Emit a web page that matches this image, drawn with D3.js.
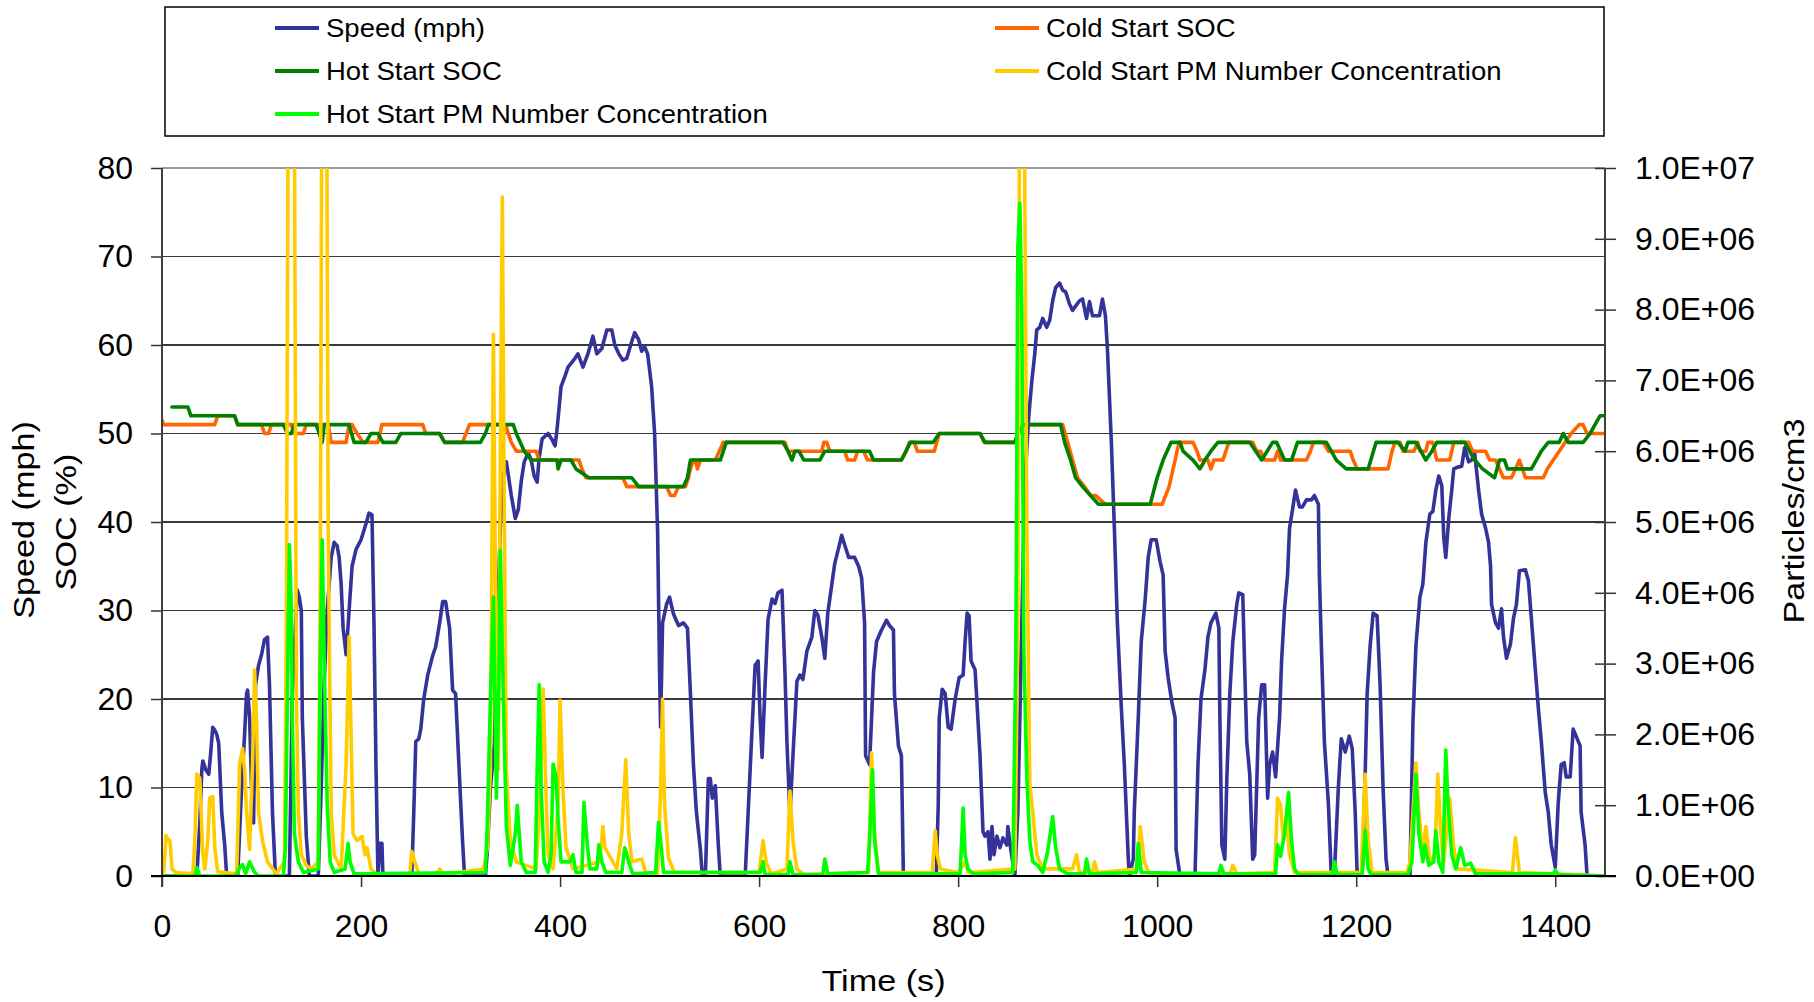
<!DOCTYPE html>
<html>
<head>
<meta charset="utf-8">
<script src="https://cdn.jsdelivr.net/npm/d3@7/dist/d3.min.js"></script>
<style>
  html, body { margin: 0; padding: 0; background: #fff; }
  svg { display: block; }
  text { font-family: "Liberation Sans", Arial, Helvetica, sans-serif; fill: #000; }
</style>
</head>
<body>
<svg id="chart" width="1814" height="1002"></svg>
<script>
// ---- Series: [time (s), value] ----
const speedMph = [
  [0,0],[35,0],[38,6],[40,12],[41,13],[44,12],[47,11.5],[49,14],[51,16.8],[53,16.5],[55,16],[57,15],[60,7.2],[63,3.5],[65,0],
  [76,0],[80,9.9],[83,16],[85,20.6],[86,21],[88,18],[90,10],[92,6],[94,21.6],[97,23.8],[100,25],[103,26.7],[106,27],[108,21.6],[111,7.2],[114,0],
  [128,0],[131,20.6],[134,28],[136,32.3],[138,31.5],[140,30],[141,17.9],[145,4.5],[148,0],
  [157,0],[160,10],[163,22],[166,30],[170,36],[173,37.7],[176,37.3],[178,36],[180,33],[182,28],[185,25],[188,30],[191,35],[195,36.9],[200,38],[205,39.8],[208,41],[211,40.8],[213,28.6],[215,12.6],[217,0],[219,3.7],[221,3.7],[222,0],
  [251,0],[253,7.2],[255,15.2],[258,15.5],[260,16.6],[263,20],[267,22.7],[272,24.9],[275,25.9],[279,28.6],[282,31],[285,31],[289,28],[292,21],[295,20.6],[299,11],[302,4],[304,0],
  [325,0],[327,3],[330,9.9],[334,15],[337,28.6],[340,39.3],[343,45.2],[346,46.8],[351,43],[355,40.4],[358,41.4],[361,44.6],[364,46.8],[368,47.8],[371,47],[374,45.2],[377,44.5],[379,47.3],[382,49.4],[385,49.7],[388,50],[392,49.3],[395,48.6],[397,50.5],[401,55.3],[405,56.5],[408,57.5],[415,58.5],[418,59],[423,57.5],[428,59],[433,61],[437,59],[442,59.6],[447,61.7],[452,61.7],[455,60],[459,59],[463,58.3],[467,58.5],[472,60.4],[475,61.4],[479,60.6],[482,59.3],[485,59.8],[488,59],[492,55.3],[495,50],[498,39],[500,23],[501,16.8],[503,28.6],[507,30.7],[510,31.5],[514,29.6],[519,28.3],[524,28.6],[528,28],[531,20.6],[534,12.6],[537,7.2],[541,3],[543,0],[546,0],[549,11],[551,11],[553,8.8],[556,10.2],[559,3.5],[561,0],
  [586,0],[589,7.2],[593,16.8],[596,23.8],[599,24.3],[601,17.9],[603,13.4],[606,21.6],[609,29],[613,31.3],[616,30.8],[619,32],[623,32.3],[626,23],[628,15],[631,7],[634,13.6],[638,22],[641,22.7],[644,22.2],[648,25.4],[653,27],[656,30],[659,29.5],[663,27],[666,24.6],[669,29.7],[673,32.9],[676,35.3],[680,37.1],[683,38.5],[686,37.4],[690,36],[696,36],[700,35],[703,33.7],[706,28.6],[707,13.6],[711,12.6],[715,23],[718,26.5],[723,27.8],[728,28.9],[731,28.3],[735,27.8],[736,20.6],[740,14.7],[743,13.6],[745,0],
  [778,0],[780,8],[781,17.9],[784,21.1],[787,20.6],[790,16.8],[793,16.6],[797,20],[801,22.4],[805,22.7],[807,26.5],[809,29.7],[811,29.4],[813,24.3],[817,23.3],[819,19.5],[822,13.6],[825,5],[827,4.5],[830,5],[832,1.9],[834,5.6],[836,2.4],[839,4.5],[842,3.2],[845,4.3],[849,3.5],[850,5.6],[853,2.9],[857,0],[860,7.2],[864,28.6],[867,44.6],[871,52],[874,55.9],[877,59],[879,61.7],[882,62],[885,63],[889,62],[892,62.8],[895,65],[898,66.5],[902,67],[905,66.2],[908,66],[912,64.6],[915,63.9],[918,64.4],[922,65],[925,65.2],[929,63],[932,64.9],[935,63.3],[939,63.3],[942,63.3],[945,65.2],[948,63.3],[950,59.6],[954,48.9],[957,39.3],[960,28.6],[964,19],[967,12.6],[971,1.9],[972,0],[976,1.9],[977,7.2],[981,17.9],[984,26.5],[988,31.3],[991,36],[994,38],[999,38],[1003,35.5],[1006,34],[1008,25.4],[1011,22.4],[1015,19.5],[1018,17.9],[1019,3],[1023,0],
  [1038,0],[1041,12.6],[1044,20],[1048,23.3],[1051,27],[1054,28.6],[1059,29.7],[1062,28],[1063,17.9],[1065,3.5],[1068,1.9],[1070,11],[1073,20.6],[1076,26.5],[1080,30.7],[1082,32],[1086,31.8],[1088,23.3],[1090,15.2],[1093,11.5],[1096,1.9],[1098,2.4],[1102,17.9],[1105,21.6],[1108,21.6],[1111,8.8],[1113,12.6],[1116,14],[1119,11.2],[1123,17.9],[1125,24.3],[1128,30.2],[1131,34],[1133,39.3],[1136,41.4],[1139,43.6],[1143,41.7],[1146,41.7],[1150,42.5],[1155,42.5],[1158,43],[1162,42],[1163,34],[1165,26],[1168,15.2],[1172,8.3],[1175,0],[1178,0],[1182,9.9],[1185,15.5],[1189,14],[1193,15.8],[1196,14.4],[1199,7.2],[1201,0],[1206,0],[1209,11.5],[1211,20.6],[1214,26],[1217,29.7],[1221,29.4],[1224,21.6],[1227,9.9],[1230,1.9],[1232,0],
  [1254,0],[1257,17.4],[1260,26],[1264,31.5],[1267,33],[1270,37.7],[1274,40.9],[1277,41.2],[1280,43.6],[1283,45.2],[1286,44.1],[1288,38.2],[1290,36],[1293,40.4],[1296,43.6],[1298,46],[1302,46.2],[1306,46.3],[1309,48.4],[1313,46.8],[1316,47],[1319,47.8],[1323,43.6],[1326,40.9],[1330,39.3],[1333,37.7],[1335,35],[1336,30.7],[1340,28.6],[1343,28],[1346,30.2],[1348,27],[1351,24.6],[1355,26.2],[1358,29.1],[1361,30.7],[1364,34.5],[1370,34.6],[1373,33.4],[1376,29.1],[1380,23.3],[1383,19],[1386,15.2],[1390,9.4],[1393,7.2],[1396,3.5],[1400,1],[1403,8.3],[1406,12.6],[1409,12.8],[1411,11.2],[1415,11.2],[1418,16.6],[1421,15.8],[1425,14.7],[1426,7.2],[1430,3.5],[1432,0],[1445,0]
];

const coldStartSoc = [
  [0,51.5],[2,51],[53,51],[56,52],[73,52],[76,51],[100,51],[103,50],[107,50],[110,51],[130,51],[133,50],[142,50],[145,51],[167,51],[170,49],[185,49],[188,51],[191,51],[196,50],[202,49],[217,49],[221,51],[262,51],[265,50],[279,50],[284,49],[302,49],[309,51],[345,51],[348,50],[351,49],[356,48],[376,48],[379,47],[419,47],[422,46],[426,45],[463,45],[467,44],[507,44],[511,43],[515,43],[519,44],[526,44],[529,45],[531,46],[534,47],[536,47],[538,46],[541,47],[556,47],[560,48],[564,49],[626,49],[629,48],[663,48],[665,49],[668,49],[671,48],[686,48],[689,47],[696,47],[699,48],[705,48],[709,47],[743,47],[748,48],[751,49],[756,49],[759,48],[776,48],[781,50],[822,50],[826,49],[857,49],[860,50],[865,51],[905,51],[910,49],[915,47],[920,45],[927,44],[933,43],[938,43],[948,42],[1005,42],[1012,44],[1018,47],[1022,49],[1036,49],[1040,48],[1043,47],[1051,47],[1054,46],[1057,47],[1066,47],[1072,49],[1096,49],[1100,48],[1104,48],[1108,47],[1118,47],[1121,48],[1124,47],[1150,47],[1154,48],[1157,49],[1167,49],[1172,48],[1194,48],[1197,47],[1201,46],[1232,46],[1236,48],[1239,49],[1244,49],[1247,48],[1258,48],[1262,49],[1264,48],[1270,48],[1272,49],[1277,49],[1281,47],[1294,47],[1298,49],[1313,49],[1317,48],[1330,48],[1334,47],[1340,47],[1344,46],[1348,45],[1356,45],[1360,46],[1364,47],[1367,46],[1370,45],[1388,45],[1392,46],[1398,47],[1404,48],[1410,49],[1416,50],[1424,51],[1428,51],[1432,50],[1451,50]
];

const hotStartSoc = [
  [10,53],[26,53],[29,52],[73,52],[76,51],[122,51],[126,50],[130,50],[133,51],[155,51],[158,50],[161,49],[163,51],[188,51],[193,49],[205,49],[210,50],[217,50],[222,49],[235,49],[240,50],[279,50],[284,49],[320,49],[325,50],[328,51],[353,51],[356,50],[360,49],[364,48],[371,47],[397,47],[398,46],[401,47],[411,47],[416,46],[429,45],[472,45],[479,44],[524,44],[528,45],[531,47],[561,47],[567,49],[624,49],[629,48],[633,47],[636,48],[640,48],[645,47],[661,47],[666,48],[711,48],[715,47],[743,47],[752,49],[775,49],[781,50],[822,50],[827,49],[857,49],[860,50],[866,51],[903,51],[907,49],[913,47],[918,45],[925,44],[933,43],[941,42],[993,42],[1000,45],[1006,47],[1014,49],[1023,49],[1026,48],[1036,47],[1043,46],[1048,47],[1054,48],[1061,49],[1093,49],[1099,48],[1105,47],[1116,49],[1120,49],[1128,47],[1135,47],[1141,49],[1170,49],[1175,48],[1180,47],[1190,46],[1212,46],[1220,49],[1242,49],[1249,48],[1252,49],[1260,49],[1265,48],[1270,47],[1276,48],[1281,49],[1309,49],[1319,47],[1327,46],[1339,45],[1344,47],[1349,47],[1352,46],[1376,46],[1381,47],[1386,48],[1393,49],[1404,49],[1408,50],[1413,49],[1428,49],[1435,50],[1440,51],[1445,52],[1451,52]
];

// particles/cm3
const coldStartPm = [
  [0,0],[2,1e5],[4,5.7e5],[6,5.2e5],[8,5e5],[10,1e5],[14,5e4],[31,3e4],[33,5e5],[35,1.44e6],[38,1.38e6],[41,3e5],[43,1e5],[46,5e5],[48,1.1e6],[51,1.12e6],[53,4e5],[56,6e4],[75,3e4],[78,1.58e6],[81,1.8e6],[83,1.5e6],[85,9e5],[88,3.75e5],[91,1.6e6],[93,2.91e6],[95,2.2e6],[97,9e5],[101,5e5],[106,2e5],[115,3e4],[123,2e5],[125,3.6e6],[127,1.2e7],[129,1.4e7],[131,1.4e7],[133,1.1e7],[135,2.6e6],[137,9e5],[140,3e5],[145,1.5e5],[150,1e5],[157,2e5],[159,4e6],[161,1.3e7],[163,1.5e7],[165,1.3e7],[167,5e6],[168,3.5e6],[170,9e5],[173,3e5],[180,1e5],[185,1.58e6],[188,3.38e6],[190,2e6],[192,6e5],[196,5e5],[201,5.6e5],[204,3e5],[206,4e5],[210,1e5],[215,3e4],[249,3e4],[251,3.5e5],[254,2e5],[258,3e4],[276,2e4],[279,1e5],[282,2e4],[323,1e5],[327,4e5],[330,1.5e6],[333,7.65e6],[336,2.6e6],[338,1.5e6],[340,6e6],[342,9.59e6],[344,5e6],[346,1.5e6],[350,5e5],[356,2e5],[376,1e5],[380,1.1e6],[383,2.64e6],[386,1.1e6],[388,3e5],[393,1e5],[398,1e6],[400,2.48e6],[403,1.2e6],[406,4e5],[413,1e5],[440,2e5],[443,7e5],[445,4e5],[457,1e5],[462,6e5],[466,1.64e6],[469,6e5],[472,2e5],[482,2.4e5],[486,5e4],[498,3e4],[501,1.2e6],[503,2.5e6],[505,1e6],[509,2.5e5],[515,5e4],[600,5e4],[604,5e5],[607,2e5],[612,3e4],[628,1e5],[631,1.2e6],[634,5e5],[638,1e5],[645,2e4],[710,5e4],[713,1.74e6],[716,6e5],[720,5e4],[774,5e4],[777,6.4e5],[779,3e5],[782,1e5],[800,5e4],[807,2e5],[810,5e4],[857,1e5],[860,3.6e6],[862,1.2e7],[864,1.3e7],[866,1.2e7],[869,5e6],[872,1.3e6],[875,9e5],[879,3e5],[885,1e5],[915,1e5],[919,3e5],[922,5e4],[935,5e4],[937,2e5],[940,5e4],[980,1e5],[983,7e5],[987,2e5],[992,3e4],[1073,3e4],[1076,1.5e5],[1080,3e4],[1118,5e4],[1121,1.1e6],[1124,1e6],[1127,5e5],[1130,8e5],[1133,3e5],[1138,5e4],[1205,5e4],[1209,1.44e6],[1212,5e5],[1216,5e4],[1251,5e4],[1254,2e5],[1260,1.6e6],[1263,9e5],[1267,3e5],[1270,7e5],[1274,2e5],[1279,3e5],[1282,1.44e6],[1285,6e5],[1288,2e5],[1294,1.1e6],[1298,4e5],[1302,1e5],[1357,5e4],[1360,5.4e5],[1364,5e4],[1450,0]
];

const hotStartPm = [
  [0,0],[33,0],[35,1.2e5],[38,0],[74,0],[78,1.2e5],[81,1.6e5],[84,3e4],[88,2e5],[93,5e4],[97,0],[122,0],[124,4e5],[126,2.5e6],[128,4.68e6],[130,3.8e6],[131,2.2e6],[133,6e5],[137,2e5],[142,5e4],[157,1e5],[159,3e6],[161,4.75e6],[163,3e6],[166,1e6],[169,2e5],[173,5e4],[184,1e5],[187,4.6e5],[189,2e5],[193,3e4],[325,5e4],[327,8e5],[330,2.5e6],[333,3.94e6],[336,1.1e6],[338,2.3e6],[340,4.6e6],[343,2.5e6],[346,7e5],[350,1.5e5],[355,6e5],[357,1e6],[359,6e5],[361,2e5],[366,5e4],[375,5e4],[377,1.5e6],[379,2.7e6],[381,1.2e6],[384,2e5],[388,5e4],[391,3e5],[393,1.58e6],[396,1.4e6],[398,8e5],[401,2e5],[410,2e5],[413,3e5],[416,5e4],[422,5e4],[424,1.04e6],[427,5e5],[430,1e5],[437,1e5],[439,4.4e5],[442,2e5],[446,5e4],[462,5e4],[465,4e5],[469,2e5],[473,3e4],[496,5e4],[499,7.6e5],[501,5e5],[504,5e4],[601,5e4],[604,2e5],[606,2e4],[629,2e4],[631,2e5],[634,2e4],[664,2e4],[666,2.4e5],[669,3e4],[709,5e4],[711,5e5],[714,1.5e6],[716,5e5],[720,3e4],[802,3e4],[805,9.6e5],[807,3e5],[810,1e5],[815,3e4],[855,5e4],[858,3.2e6],[860,8.9e6],[862,9.5e6],[864,8e6],[866,3.2e6],[869,1.4e6],[872,5e5],[875,2e5],[880,1.5e5],[885,5e4],[890,3.5e5],[895,8.4e5],[898,4e5],[902,1e5],[910,3e4],[927,3e4],[929,2.4e5],[932,3e4],[979,5e4],[981,4.6e5],[984,5e4],[1062,3e4],[1064,1.5e5],[1067,3e4],[1119,3e4],[1121,4.4e5],[1124,2.8e5],[1128,6e5],[1132,1.18e6],[1135,5e5],[1138,1e5],[1142,2e4],[1176,2e4],[1178,2e5],[1181,2e4],[1206,2e4],[1209,6.4e5],[1212,1e5],[1215,2e4],[1252,2e4],[1256,2e5],[1260,1.44e6],[1263,6e5],[1267,2e5],[1269,4.4e5],[1273,1.5e5],[1278,2e5],[1280,6.4e5],[1283,2e5],[1287,5e4],[1290,1.78e6],[1292,1.1e6],[1296,3e5],[1300,1e5],[1305,4e5],[1309,1.5e5],[1315,1.8e5],[1320,3e4],[1398,3e4],[1400,8e4],[1403,2e4],[1450,0]
];

// ---- Axis ticks ----
const timeTicks = [0, 200, 400, 600, 800, 1000, 1200, 1400];
const leftTicks = [0, 10, 20, 30, 40, 50, 60, 70, 80];
const rightTicks = [0, 1e6, 2e6, 3e6, 4e6, 5e6, 6e6, 7e6, 8e6, 9e6, 1e7];

// ---- Series definitions (legend order = draw order) ----
const seriesList = [
  { name: "Speed (mph)", data: speedMph, color: "#333399", axis: "left" },
  { name: "Cold Start SOC", data: coldStartSoc, color: "#FF6600", axis: "left" },
  { name: "Hot Start SOC", data: hotStartSoc, color: "#008000", axis: "left" },
  { name: "Cold Start PM Number Concentration", data: coldStartPm, color: "#FFCC00", axis: "right" },
  { name: "Hot Start PM Number Concentration", data: hotStartPm, color: "#00FF00", axis: "right" }
];

// ---- Layout ----
const plot = { left: 162, right: 1605, top: 168, bottom: 876 };
const svg = d3.select("#chart");

const x = d3.scaleLinear().domain([0, 1450]).range([plot.left, plot.right]);
const yLeft = d3.scaleLinear().domain([0, 80]).range([plot.bottom, plot.top]);
const yRight = d3.scaleLinear().domain([0, 1e7]).range([plot.bottom, plot.top]);

function sciLabel(v) {
  if (v === 0) return "0.0E+00";
  const e = Math.floor(Math.log10(v) + 1e-9);
  const m = v / Math.pow(10, e);
  return m.toFixed(1) + "E+" + String(e).padStart(2, "0");
}

// horizontal text stretch (wide rendering of the labels)
function widen(sel, k) {
  sel.each(function () {
    const w = this.getComputedTextLength();
    d3.select(this).attr("textLength", w * k).attr("lengthAdjust", "spacingAndGlyphs");
  });
}

// ---- Gridlines ----
svg.append("g")
  .selectAll("line")
  .data(leftTicks.filter(d => d > 0))
  .join("line")
  .attr("x1", plot.left).attr("x2", plot.right)
  .attr("y1", d => yLeft(d)).attr("y2", d => yLeft(d))
  .attr("stroke", d => d === 80 ? "#9a9a9a" : "#3a3a3a")
  .attr("stroke-width", d => d === 80 ? 2 : 1.2)
  .attr("shape-rendering", "crispEdges");

// ---- Series lines ----
svg.append("defs").append("clipPath").attr("id", "plotClip")
  .append("rect")
  .attr("x", plot.left).attr("y", plot.top)
  .attr("width", plot.right - plot.left).attr("height", plot.bottom - plot.top);

const gLines = svg.append("g").attr("clip-path", "url(#plotClip)");
seriesList.forEach(s => {
  const yScale = s.axis === "left" ? yLeft : yRight;
  const line = d3.line().x(d => x(d[0])).y(d => yScale(d[1]));
  gLines.append("path")
    .datum(s.data)
    .attr("d", line)
    .attr("fill", "none")
    .attr("stroke", s.color)
    .attr("stroke-width", 3.6)
    .attr("stroke-linejoin", "round")
    .attr("stroke-linecap", "round");
});

// ---- Axes ----
const fontTick = 32;

const gLeft = svg.append("g").attr("transform", `translate(${plot.left},0)`)
  .call(d3.axisLeft(yLeft).tickValues(leftTicks).tickSize(11).tickPadding(18).tickFormat(d3.format("d")));
gLeft.select(".domain").remove();
gLeft.selectAll(".tick line").attr("stroke", "#333").attr("stroke-width", 1.5);
gLeft.selectAll(".tick text").attr("font-size", fontTick).attr("font-family", "Liberation Sans, Arial, sans-serif").attr("fill", "#000");

const gRight = svg.append("g").attr("transform", `translate(${plot.right},0)`)
  .call(d3.axisRight(yRight).tickValues(rightTicks).tickSize(11).tickPadding(19).tickFormat(sciLabel));
gRight.select(".domain").remove();
gRight.selectAll(".tick line").attr("x1", -10).attr("x2", 11).attr("stroke", "#333").attr("stroke-width", 1.5);
gRight.selectAll(".tick text").attr("font-size", fontTick).attr("font-family", "Liberation Sans, Arial, sans-serif").attr("fill", "#000");

const gBottom = svg.append("g").attr("transform", `translate(0,${plot.bottom})`)
  .call(d3.axisBottom(x).tickValues(timeTicks).tickSize(11).tickPadding(27).tickFormat(d3.format("d")));
gBottom.select(".domain").remove();
gBottom.selectAll(".tick line").attr("stroke", "#333").attr("stroke-width", 1.5);
gBottom.selectAll(".tick text").attr("font-size", fontTick).attr("font-family", "Liberation Sans, Arial, sans-serif").attr("fill", "#000");

// axis lines
svg.append("line").attr("x1", plot.left).attr("x2", plot.left).attr("y1", plot.top).attr("y2", plot.bottom + 11)
  .attr("stroke", "#404040").attr("stroke-width", 2);
svg.append("line").attr("x1", plot.right).attr("x2", plot.right).attr("y1", plot.top).attr("y2", plot.bottom)
  .attr("stroke", "#404040").attr("stroke-width", 2);
svg.append("line").attr("x1", plot.left - 11).attr("x2", plot.right + 11).attr("y1", plot.bottom).attr("y2", plot.bottom)
  .attr("stroke", "#000").attr("stroke-width", 2);

// ---- Axis titles ----
const titleSize = 30;
const titles = svg.append("g").attr("font-size", titleSize);
titles.append("text").attr("x", (plot.left + plot.right) / 2).attr("y", 991)
  .attr("text-anchor", "middle").text("Time (s)");
titles.append("text").attr("transform", "translate(34,520) rotate(-90)")
  .attr("text-anchor", "middle").text("Speed (mph)");
titles.append("text").attr("transform", "translate(76,522) rotate(-90)")
  .attr("text-anchor", "middle").text("SOC (%)");
titles.append("text").attr("transform", "translate(1804,521) rotate(-90)")
  .attr("text-anchor", "middle").text("Particles/cm3");
widen(titles.selectAll("text"), 1.14);

// ---- Legend ----
const legend = svg.append("g");
legend.append("rect")
  .attr("x", 165).attr("y", 7).attr("width", 1439).attr("height", 129)
  .attr("fill", "#fff").attr("stroke", "#000").attr("stroke-width", 1.5);

const legendCols = [275, 995];
const legendRows = [28, 71, 114];
const legendItems = legend.selectAll("g.item")
  .data(seriesList)
  .join("g")
  .attr("class", "item")
  .attr("transform", (d, i) => `translate(${legendCols[i % 2]},${legendRows[Math.floor(i / 2)]})`);
legendItems.append("line")
  .attr("x1", 0).attr("x2", 44).attr("y1", 0).attr("y2", 0)
  .attr("stroke", d => d.color).attr("stroke-width", 4);
const legendText = legendItems.append("text")
  .attr("x", 51).attr("y", 0).attr("dy", "0.35em")
  .attr("font-size", 25)
  .text(d => d.name);
widen(legendText, 1.1);
</script>
</body>
</html>
